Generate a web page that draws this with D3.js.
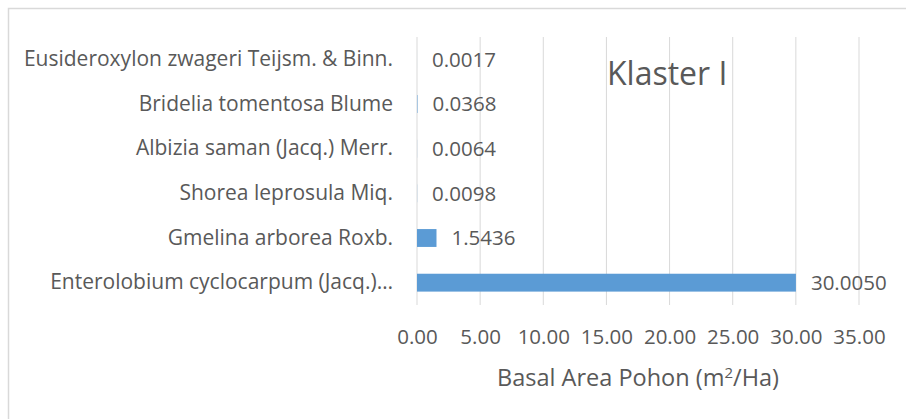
<!DOCTYPE html>
<html>
<head>
<meta charset="utf-8">
<script src="https://cdn.jsdelivr.net/npm/d3@7"></script>
<style>
  body { margin: 0; background: #fff; }
  svg text { font-family: "Open Sans", sans-serif; fill: #595959; }
</style>
</head>
<body>
<div id="chart"></div>
<script>
// data (top to bottom)
const species = [
  "Eusideroxylon zwageri Teijsm. & Binn.",
  "Bridelia tomentosa Blume",
  "Albizia saman (Jacq.) Merr.",
  "Shorea leprosula Miq.",
  "Gmelina arborea Roxb.",
  "Enterolobium cyclocarpum (Jacq.)\u2026"
];
const basalArea = [0.0017, 0.0368, 0.0064, 0.0098, 1.5436, 30.0050];
const xTicks = [0, 5, 10, 15, 20, 25, 30, 35];
const chartTitle = "Klaster I";

const W = 906, H = 419;
const margin = { top: 37, right: 47, bottom: 114, left: 417 },
      width = W - margin.left - margin.right,
      height = H - margin.top - margin.bottom;

const root = d3.select("#chart")
  .append("svg")
    .attr("width", W)
    .attr("height", H);

// outer frame (runs off the right and bottom edge)
root.append("rect")
    .attr("x", 8.5)
    .attr("y", 8.5)
    .attr("width", W)
    .attr("height", H)
    .attr("fill", "none")
    .attr("stroke", "#d9d9d9")
    .attr("stroke-width", 1.5);

const svg = root.append("g")
    .attr("transform", `translate(${margin.left},${margin.top})`);

const x = d3.scaleLinear()
    .domain([0, 35])
    .range([0, width]);

const y = d3.scaleBand()
    .domain(species)
    .range([0, height])
    .paddingInner(0.6)
    .paddingOuter(0.3);

// vertical gridlines
svg.append("g")
  .selectAll("line")
  .data(xTicks)
  .enter()
  .append("line")
    .attr("x1", d => x(d))
    .attr("x2", d => x(d))
    .attr("y1", 0)
    .attr("y2", height)
    .attr("stroke", "#d9d9d9")
    .attr("stroke-width", 1);

// x axis tick labels
const xAxis = svg.append("g")
    .attr("transform", `translate(0,${height})`)
    .call(d3.axisBottom(x).tickValues(xTicks).tickFormat(d3.format(".2f")).tickSize(0).tickPadding(24));
xAxis.select(".domain").remove();
xAxis.selectAll("text")
    .style("font-size", "20.5px")
    .attr("fill", "#595959");

// category labels
const yAxis = svg.append("g")
    .call(d3.axisLeft(y).tickSize(0).tickPadding(24));
yAxis.select(".domain").remove();
yAxis.selectAll("text")
    .style("font-size", "21px")
    .attr("fill", "#595959");

// bars
svg.append("g")
  .selectAll("rect")
  .data(basalArea)
  .enter()
  .append("rect")
    .attr("x", 0)
    .attr("y", (d, i) => y(species[i]))
    .attr("width", d => x(d))
    .attr("height", y.bandwidth())
    .attr("fill", "#5b9bd5");

// value labels
svg.append("g")
  .selectAll("text")
  .data(basalArea)
  .enter()
  .append("text")
    .attr("x", d => x(d) + 15)
    .attr("y", (d, i) => y(species[i]) + y.bandwidth() / 2)
    .attr("dy", "0.35em")
    .style("font-size", "20.5px")
    .text(d => d3.format(".4f")(d));

// chart title inside the plot
svg.append("text")
    .attr("x", 607 - margin.left)
    .attr("y", 85 - margin.top)
    .style("font-size", "32px")
    .text(chartTitle);

// x axis title, superscript 2 shifted in px so the baseline comes back exactly
const xt = svg.append("text")
    .attr("text-anchor", "middle")
    .attr("x", width / 2)
    .attr("y", height + 81)
    .style("font-size", "23.5px");
xt.append("tspan").text("Basal Area Pohon (m");
xt.append("tspan").attr("dy", -8).style("font-size", "15px").text("2");
xt.append("tspan").attr("dy", 8).text("/Ha)");
</script>
</body>
</html>
